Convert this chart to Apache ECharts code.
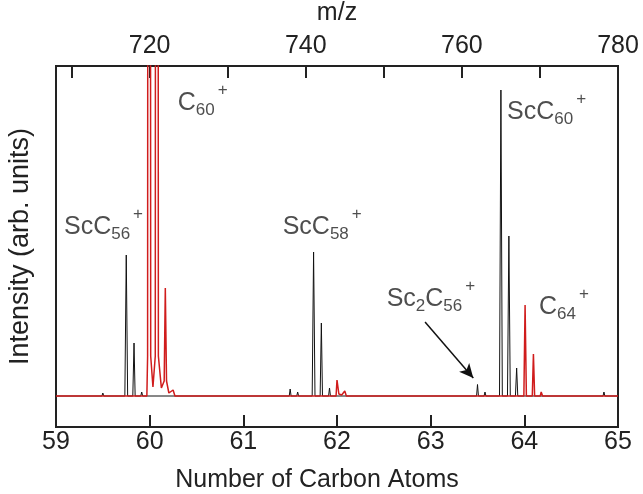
<!DOCTYPE html>
<html>
<head>
<meta charset="utf-8">
<script src="https://cdn.jsdelivr.net/npm/echarts@6/dist/echarts.min.js"></script>
<style>
  html, body { margin: 0; padding: 0; background: #fff; }
  #chart { width: 643px; height: 494px; }
</style>
</head>
<body>
<div id="chart"></div>
<script>
// number of carbon atoms (m/z / 12) vs intensity
const scSpectrum = [
  [59, 0], [59.49, 0], [59.5, 3], [59.51, 0], [59.62, 0], [59.63, 2], [59.64, 0],
  [59.735, 0], [59.75, 141], [59.765, 0], [59.82, 0], [59.833, 53], [59.845, 0],
  [59.905, 0], [59.915, 4], [59.925, 0],
  [61.49, 0], [61.5, 7], [61.51, 0], [61.57, 0], [61.58, 4], [61.59, 0],
  [61.735, 0], [61.75, 144], [61.765, 0], [61.82, 0], [61.833, 73], [61.845, 0],
  [61.91, 0], [61.92, 8], [61.93, 0],
  [63.49, 0], [63.5, 11.5], [63.51, 0], [63.57, 0], [63.58, 4], [63.59, 0],
  [63.735, 0], [63.75, 306], [63.765, 0], [63.82, 0], [63.835, 160], [63.85, 0],
  [63.905, 0], [63.918, 28], [63.93, 0],
  [64.84, 0], [64.85, 4], [64.86, 0], [64.925, 0], [64.935, 2], [64.945, 0], [65, 0]
]

const cSpectrum = [
  [59, 0], [59.97, 0], [59.978, 40], [59.982, 1000], [60.006, 1000], [60.011, 40],
  [60.035, 9], [60.06, 40], [60.064, 1000], [60.088, 1000], [60.093, 40],
  [60.125, 8], [60.155, 15], [60.167, 108], [60.18, 15], [60.205, 3], [60.225, 2],
  [60.25, 6], [60.27, 0],
  [61.99, 0], [62.0, 16], [62.02, 2], [62.05, 1], [62.083, 5], [62.1, 0],
  [63.995, 0], [64.008, 91], [64.022, 0], [64.085, 0], [64.097, 42], [64.11, 0],
  [64.17, 0], [64.18, 4], [64.195, 0], [65, 0]
]

// peak labels: [x, y, rich text]
const peakLabels = [
  [59.085, 169, '{m|ScC}{s|56}{p|+}'],
  [60.3, 293, '{m|C}{s|60}{p|+}'],
  [61.42, 169, '{m|ScC}{s|58}{p|+}'],
  [63.815, 284, '{m|ScC}{s|60}{p|+}'],
  [62.53, 97, '{m|Sc}{s|2}{m|C}{s|56}{p|+}'],
  [64.157, 89, '{m|C}{s|64}{p|+}']
]

const arrowFrom = [62.94, 74]
const arrowTo = [63.455, 18]

const carbonTicks = [59, 60, 61, 62, 63, 64, 65]
const mzTicks = [710, 720, 730, 740, 750, 760, 770, 780]
const mzLabels = [720, 740, 760, 780]

const yMin = -31
const yMax = 330
const tickLen = 12 // in intensity units, 1 unit = 1 px here

const chart = echarts.init(document.getElementById('chart'))
const fontFamily = 'Liberation Sans, Arial, sans-serif'
const textColor = '#222'
const frameColor = '#222'

// bottom ticks pointing into the plot
const carbonTickLines = carbonTicks
  .filter((v) => v > 59 && v < 65)
  .map((v) => [{ coord: [v, yMin] }, { coord: [v, yMin + tickLen] }])

const option = {
  animation: false,
  textStyle: { fontFamily: fontFamily },
  grid: {
    left: 56,
    right: 25,
    top: 66,
    bottom: 67,
    outerBoundsMode: 'none',
    show: true,
    borderColor: frameColor,
    borderWidth: 2
  },
  xAxis: [
    {
      type: 'value',
      position: 'bottom',
      min: 59,
      max: 65,
      interval: 1,
      name: 'Number of Carbon Atoms',
      nameLocation: 'middle',
      nameGap: 41,
      nameTextStyle: { fontSize: 25, color: textColor, padding: [0, 40, 0, 0] },
      axisLine: { show: true, onZero: false, lineStyle: { color: frameColor, width: 2 } },
      axisTick: { show: true, inside: true, length: 12, lineStyle: { color: frameColor, width: 2 } },
      axisLabel: {
        fontSize: 25,
        color: textColor,
        margin: 3,
        showMinLabel: true,
        showMaxLabel: true
      },
      splitLine: { show: false }
    },
    {
      type: 'value',
      position: 'top',
      min: 708,
      max: 780,
      name: 'm/z',
      nameLocation: 'middle',
      nameGap: 40,
      nameTextStyle: { fontSize: 25, color: textColor },
      axisLine: { show: true, onZero: false, lineStyle: { color: frameColor, width: 2 } },
      axisTick: {
        show: true,
        inside: true,
        length: 12,
        lineStyle: { color: frameColor, width: 2 },
        customValues: mzTicks
      },
      axisLabel: {
        fontSize: 25,
        color: textColor,
        margin: 7,
        customValues: mzLabels
      },
      splitLine: { show: false }
    }
  ],
  yAxis: {
    type: 'value',
    min: yMin,
    max: yMax,
    name: 'Intensity (arb. units)',
    nameLocation: 'middle',
    nameGap: 22,
    nameTextStyle: { fontSize: 27, color: textColor },
    axisLine: { show: false },
    axisTick: { show: false },
    axisLabel: { show: false },
    splitLine: { show: false }
  },
  series: [
    {
      name: 'ScCn',
      type: 'line',
      data: scSpectrum,
      showSymbol: false,
      clip: true,
      lineStyle: { color: '#111', width: 1 },
      markLine: {
        silent: true,
        symbol: ['none', 'arrow'],
        symbolSize: [10, 14],
        label: { show: false },
        lineStyle: { color: '#111', width: 1.5, type: 'solid' },
        data: [[{ coord: arrowFrom }, { coord: arrowTo }]]
      }
    },
    {
      name: 'Cn',
      type: 'line',
      data: cSpectrum,
      showSymbol: false,
      clip: true,
      lineStyle: { color: '#d01c1c', width: 1.5 },
      markLine: {
        silent: true,
        symbol: ['none', 'none'],
        label: { show: false },
        lineStyle: { color: frameColor, width: 2, type: 'solid' },
        data: carbonTickLines
      }
    },
    {
      name: 'labels',
      type: 'scatter',
      data: peakLabels,
      symbolSize: 0,
      silent: true,
      label: {
        show: true,
        position: 'right',
        distance: 0,
        formatter: (p) => p.data[2],
        rich: {
          m: { fontSize: 25, lineHeight: 28, color: textColor, fontFamily: fontFamily },
          s: { fontSize: 17, lineHeight: 13, padding: [15, 0, 0, 0], color: textColor, fontFamily: fontFamily },
          p: { fontSize: 17, lineHeight: 13, padding: [0, 0, 26, 3], color: textColor, fontFamily: fontFamily }
        }
      }
    }
  ]
}

chart.setOption(option)
</script>
</body>
</html>
